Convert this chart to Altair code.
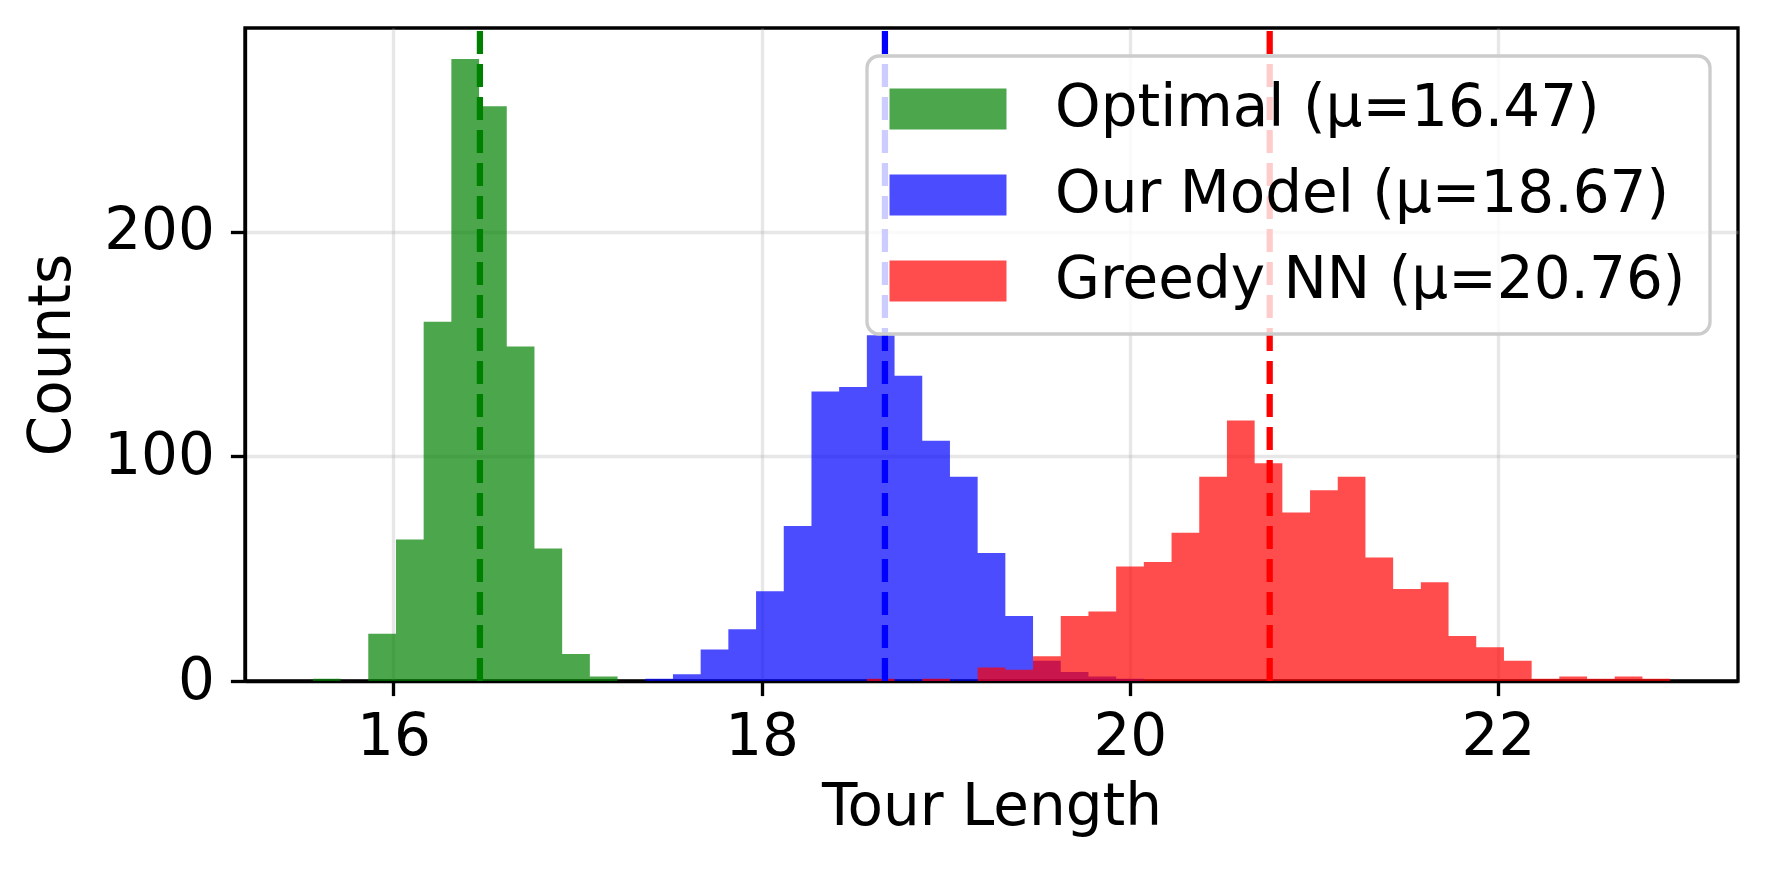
import altair as alt
import pandas as pd

# ---- data ----
BIN_START = 15.5626      # left edge of first shared bin
BIN_WIDTH = 0.15046      # shared bin width
SERIES = ["Optimal", "Our Model", "Greedy NN"]
MEANS = [16.47, 18.67, 20.76]
LABELS = ["Optimal (μ=16.47)", "Our Model (μ=18.67)", "Greedy NN (μ=20.76)"]
COLORS = ["#008000", "#0000ff", "#ff0000"]

OPTIMAL_FIRST_BIN = 0
OPTIMAL_COUNTS = [1, 0, 21, 63, 160, 277, 256, 149, 59, 12, 2]
MODEL_FIRST_BIN = 12
MODEL_COUNTS = [1, 3, 14, 23, 40, 69, 129, 131, 154, 136, 107, 91, 57, 29, 9, 4, 2, 1]
GREEDY_FIRST_BIN = 20
GREEDY_COUNTS = [1, 0, 1, 0, 6, 5, 11, 29, 31, 51, 53, 66, 91, 116, 97, 75, 85, 91,
                 55, 41, 44, 20, 15, 9, 1, 2, 1, 2, 1]
X_TICKS = [16, 18, 20, 22]
Y_TICKS = [0, 100, 200]

FIRSTS = [OPTIMAL_FIRST_BIN, MODEL_FIRST_BIN, GREEDY_FIRST_BIN]
ALL_COUNTS = [OPTIMAL_COUNTS, MODEL_COUNTS, GREEDY_COUNTS]

# ---- build step tables (one per series, histogram outline as a step area) ----
step_tables = []
for label, first, counts in zip(LABELS, FIRSTS, ALL_COUNTS):
    pts = []
    for i, c in enumerate(counts):
        pts.append({"series": label, "x": BIN_START + (first + i) * BIN_WIDTH,
                    "count": c, "base": 0})
    # closing edge of the last bin
    pts.append({"series": label,
                "x": BIN_START + (first + len(counts)) * BIN_WIDTH,
                "count": counts[-1], "base": 0})
    step_tables.append(pd.DataFrame(pts))

n_bins = max(f + len(c) for f, c in zip(FIRSTS, ALL_COUNTS))
x_lo = BIN_START
x_hi = BIN_START + n_bins * BIN_WIDTH
span = x_hi - x_lo
X_DOMAIN = [x_lo - 0.05 * span, x_hi + 0.05 * span]
YMAX = 1.05 * max(max(c) for c in ALL_COUNTS)

means_df = pd.DataFrame({"series": LABELS, "mean": MEANS, "line_color": COLORS})

FONT = "DejaVu Sans"
FS = 58
LW = 3.33
SYMBOL_PATH = "M-1,-1H4.707V1H-1Z"

x_scale = alt.Scale(domain=X_DOMAIN, nice=False, zero=False)
y_scale = alt.Scale(domain=[0, YMAX], nice=False, zero=False)
color_enc = alt.Color("series:N",
                      scale=alt.Scale(domain=LABELS, range=COLORS),
                      legend=alt.Legend(title=None, symbolType=SYMBOL_PATH))

layers = []
for df in step_tables:
    layers.append(
        alt.Chart(df).mark_area(opacity=0.7, interpolate="step-after").encode(
            x=alt.X("x:Q", scale=x_scale,
                    axis=alt.Axis(values=X_TICKS, format="d", title="Tour Length")),
            y=alt.Y("count:Q", stack=None, scale=y_scale,
                    axis=alt.Axis(values=Y_TICKS, format="d", title="Counts")),
            y2="base:Q",
            color=color_enc,
        )
    )

rules = alt.Chart(means_df).mark_rule(strokeWidth=6.25, strokeDash=[23, 10]).encode(
    x=alt.X("mean:Q", scale=x_scale),
    y=alt.datum(0),
    y2=alt.datum(YMAX),
    color=alt.Color("line_color:N", scale=None),
)

chart = alt.layer(*layers, rules).properties(
    width=1493, height=653,
    padding={"left": 237, "top": 20, "right": 24, "bottom": 178},
    autosize="none",
).configure(font=FONT).configure_view(
    stroke="black", strokeWidth=LW,
).configure_axis(
    labelFont=FONT, titleFont=FONT, labelFontSize=FS, titleFontSize=FS,
    labelColor="black", titleColor="black", titleFontWeight="normal",
    tickSize=14.6, tickWidth=LW, tickColor="black",
    domainColor="black", domainWidth=LW,
    gridColor="#b0b0b0", gridOpacity=0.3, gridWidth=LW,
    zindex=1,
).configure_axisX(
    labelPadding=13, titlePadding=12,
).configure_axisY(
    labelPadding=16, titlePadding=22,
).configure_legend(
    orient="top-right", offset=28, padding=24,
    fillColor="rgba(255,255,255,0.8)", strokeColor="#cccccc", strokeWidth=LW,
    cornerRadius=12,
    labelFont=FONT, labelFontSize=FS, labelColor="black", labelLimit=2000,
    symbolType=SYMBOL_PATH, symbolSize=1681, symbolOpacity=0.7,
    symbolStrokeWidth=0, symbolOffset=-10, labelOffset=116, rowPadding=28, zindex=2,
)

chart.save("out.html", embed_options={"renderer": "svg", "actions": False})
